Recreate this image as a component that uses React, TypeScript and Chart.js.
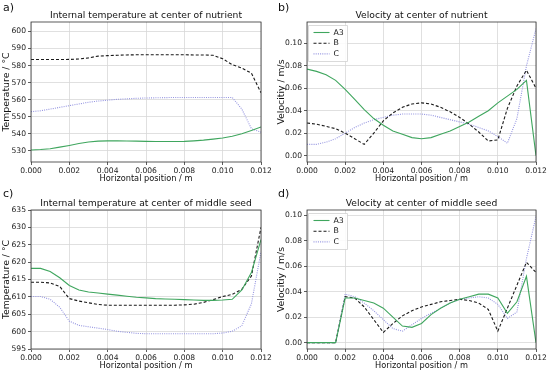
import React, { useEffect, useRef } from "react";
import { Chart, registerables } from "chart.js";
Chart.register(...registerables);

const xPos = [0.0, 0.0005, 0.001, 0.0015, 0.002, 0.0025, 0.003, 0.0035, 0.004, 0.0045, 0.005, 0.0055, 0.006, 0.0065, 0.007, 0.0075, 0.008, 0.0085, 0.009, 0.0095, 0.01, 0.0105, 0.011, 0.0115, 0.012];
const xTicks = [0.0, 0.002, 0.004, 0.006, 0.008, 0.01, 0.012];
const seriesNames = ["A3", "B", "C"];

// a) Internal temperature at center of nutrient
const tempNutA3 = [530.5, 530.8, 531.3, 532.2, 533.2, 534.3, 535.2, 535.7, 535.9, 535.9, 535.8, 535.7, 535.6, 535.5, 535.5, 535.5, 535.6, 535.9, 536.3, 536.9, 537.6, 538.6, 540.0, 542.0, 544.0];
const tempNutB = [583.5, 583.5, 583.5, 583.5, 583.6, 583.8, 584.5, 585.5, 585.8, 586.0, 586.2, 586.3, 586.3, 586.3, 586.3, 586.3, 586.3, 586.2, 586.2, 586.0, 584.0, 580.5, 578.5, 575.5, 564.0];
const tempNutC = [553.0, 553.5, 554.5, 555.5, 556.5, 557.5, 558.5, 559.2, 559.7, 560.2, 560.5, 560.8, 561.0, 561.1, 561.2, 561.3, 561.3, 561.3, 561.3, 561.3, 561.3, 561.3, 554.5, 543.0, 541.0];
const tempNutTicks = [530, 540, 550, 560, 570, 580, 590, 600];

// b) Velocity at center of nutrient
const velNutA3 = [0.077, 0.075, 0.072, 0.067, 0.059, 0.05, 0.041, 0.033, 0.027, 0.022, 0.019, 0.016, 0.015, 0.016, 0.019, 0.022, 0.026, 0.03, 0.035, 0.04, 0.047, 0.053, 0.059, 0.067, 0.0];
const velNutB = [0.029, 0.028, 0.026, 0.024, 0.02, 0.015, 0.01, 0.02, 0.031, 0.038, 0.043, 0.046, 0.047, 0.046, 0.043, 0.039, 0.034, 0.028, 0.021, 0.013, 0.014, 0.042, 0.062, 0.076, 0.06];
const velNutC = [0.01, 0.01, 0.012, 0.015, 0.02, 0.025, 0.029, 0.032, 0.034, 0.036, 0.037, 0.037, 0.037, 0.036, 0.034, 0.032, 0.03, 0.028, 0.025, 0.022, 0.017, 0.011, 0.033, 0.08, 0.113];
const velNutTicks = [0.0, 0.02, 0.04, 0.06, 0.08, 0.1];

// c) Internal temperature at center of middle seed
const tempSeedA3 = [618.2, 618.2, 617.3, 615.5, 613.3, 612.0, 611.4, 611.1, 610.8, 610.5, 610.2, 609.9, 609.7, 609.5, 609.4, 609.3, 609.2, 609.1, 609.0, 609.0, 609.1, 609.3, 612.0, 617.0, 626.5];
const tempSeedB = [614.2, 614.2, 614.0, 613.0, 609.5, 608.8, 608.3, 607.8, 607.6, 607.6, 607.6, 607.6, 607.6, 607.6, 607.6, 607.6, 607.7, 607.9, 608.4, 609.2, 610.1, 610.7, 612.2, 616.0, 630.0];
const tempSeedC = [610.1, 610.1, 609.3, 607.0, 603.0, 601.8, 601.4, 601.0, 600.6, 600.1, 599.8, 599.5, 599.4, 599.4, 599.4, 599.4, 599.4, 599.4, 599.4, 599.4, 599.6, 600.1, 601.7, 608.0, 623.0];
const tempSeedTicks = [595, 600, 605, 610, 615, 620, 625, 630, 635];

// d) Velocity at center of middle seed
const velSeedA3 = [0, 0, 0, 0, 0.035, 0.035, 0.033, 0.031, 0.027, 0.02, 0.013, 0.012, 0.015, 0.022, 0.027, 0.031, 0.034, 0.036, 0.038, 0.038, 0.035, 0.023, 0.032, 0.052, 0.0];
const velSeedB = [0, 0, 0, 0, 0.036, 0.035, 0.028, 0.018, 0.008, 0.015, 0.021, 0.025, 0.028, 0.03, 0.032, 0.033, 0.034, 0.033, 0.031, 0.026, 0.009, 0.027, 0.045, 0.063, 0.055];
const velSeedC = [0, 0, 0, 0, 0.038, 0.036, 0.031, 0.025, 0.018, 0.011, 0.009, 0.014, 0.019, 0.023, 0.027, 0.031, 0.034, 0.035, 0.036, 0.035, 0.03, 0.019, 0.024, 0.066, 0.099];
const velSeedTicks = [0.0, 0.02, 0.04, 0.06, 0.08, 0.1];

const FONT = "'DejaVu Sans', sans-serif";
const W = 275;
const H = 186;
const COLORS = ["#3fa65e", "#1a1a1a", "#9494e0"];
const DASHES: number[][] = [[], [3, 2], [1, 1.2]];

type Spec = {
  left: number;
  top: number;
  label: string;
  title: string;
  yTitle: string;
  series: number[][];
  yMin: number;
  yMax: number;
  yTicks: number[];
  yDigits: number;
  plotLeft: number;
  plotRight: number;
  plotTop: number;
  plotBottom: number;
  legend: boolean;
};

function Panel({ spec }: { spec: Spec }) {
  const ref = useRef<HTMLCanvasElement>(null);
  useEffect(() => {
    const decor = {
      id: "decor",
      afterDraw(chart: any) {
        const ctx = chart.ctx;
        const ca = chart.chartArea;
        ctx.save();
        // frame
        ctx.strokeStyle = "#333";
        ctx.lineWidth = 0.8;
        ctx.strokeRect(ca.left, ca.top, ca.right - ca.left, ca.bottom - ca.top);
        // panel label
        ctx.fillStyle = "#111";
        ctx.font = `11px ${FONT}`;
        ctx.textAlign = "left";
        ctx.textBaseline = "middle";
        ctx.fillText(spec.label, 3, 8);
        // title
        ctx.font = `9.2px ${FONT}`;
        ctx.textAlign = "center";
        ctx.textBaseline = "alphabetic";
        ctx.fillText(spec.title, (ca.left + ca.right) / 2, ca.top - 4);
        // x title
        ctx.font = `8.2px ${FONT}`;
        ctx.textBaseline = "middle";
        ctx.fillText("Horizontal position / m", (ca.left + ca.right) / 2, ca.bottom + 17);
        // y title
        ctx.font = `9.3px ${FONT}`;
        ctx.translate(6.5, (ca.top + ca.bottom) / 2);
        ctx.rotate(-Math.PI / 2);
        ctx.fillText(spec.yTitle, 0, 0);
        ctx.setTransform(1, 0, 0, 1, 0, 0);
        // legend
        if (spec.legend) {
          const bx = ca.left + 1.5;
          const by = ca.top + 3.5;
          const bw = 39;
          const bh = 36;
          ctx.fillStyle = "rgba(255,255,255,0.85)";
          ctx.strokeStyle = "#d0d0d0";
          ctx.lineWidth = 0.8;
          ctx.beginPath();
          ctx.rect(bx, by, bw, bh);
          ctx.fill();
          ctx.stroke();
          ctx.font = `7.8px ${FONT}`;
          ctx.textAlign = "left";
          ctx.textBaseline = "middle";
          seriesNames.forEach((name, i) => {
            const yy = by + 7 + i * 10.7;
            ctx.strokeStyle = COLORS[i];
            ctx.lineWidth = 1.1;
            ctx.setLineDash(DASHES[i]);
            ctx.beginPath();
            ctx.moveTo(bx + 5, yy);
            ctx.lineTo(bx + 21, yy);
            ctx.stroke();
            ctx.setLineDash([]);
            ctx.fillStyle = "#111";
            ctx.fillText(name, bx + 25, yy);
          });
        }
        ctx.restore();
      },
    };
    const datasets = spec.series.map((vals, i) => ({
      label: seriesNames[i],
      data: xPos.map((x, j) => ({ x, y: vals[j] })),
      borderColor: COLORS[i],
      borderDash: DASHES[i],
      borderWidth: 1.1,
      pointRadius: 0,
      fill: false,
      tension: 0,
    }));
    const chart = new Chart(ref.current as HTMLCanvasElement, {
      type: "line",
      data: { datasets },
      options: {
        responsive: false,
        animation: false,
        layout: { padding: { left: 0, top: spec.plotTop, right: W - spec.plotRight, bottom: 0 } },
        plugins: { legend: { display: false }, tooltip: { enabled: false }, title: { display: false } },
        scales: {
          x: {
            type: "linear",
            min: 0,
            max: 0.012,
            afterBuildTicks: (s: any) => {
              s.ticks = xTicks.map((v) => ({ value: v }));
            },
            afterFit: (s: any) => {
              s.height = H - spec.plotBottom;
            },
            ticks: {
              callback: (v: any) => Number(v).toFixed(3),
              font: { family: FONT, size: 7.6 },
              color: "#222",
              padding: 1,
              maxRotation: 0,
              autoSkip: false,
            },
            grid: { color: "#d8d8d8", tickColor: "#333", tickLength: 3, lineWidth: 0.8 },
            border: { display: false },
          },
          y: {
            type: "linear",
            min: spec.yMin,
            max: spec.yMax,
            afterBuildTicks: (s: any) => {
              s.ticks = spec.yTicks.map((v) => ({ value: v }));
            },
            afterFit: (s: any) => {
              s.width = spec.plotLeft;
            },
            ticks: {
              callback: (v: any) => Number(v).toFixed(spec.yDigits),
              font: { family: FONT, size: 7.6 },
              color: "#222",
              padding: 2,
              autoSkip: false,
            },
            grid: { color: "#d8d8d8", tickColor: "#333", tickLength: 3, lineWidth: 0.8 },
            border: { display: false },
          },
        },
      },
      plugins: [decor],
    } as any);
    return () => chart.destroy();
  }, [spec]);
  return (
    <div style={{ position: "absolute", left: spec.left, top: spec.top, width: W, height: H }}>
      <canvas ref={ref} width={W} height={H} style={{ width: W, height: H, display: "block" }} />
    </div>
  );
}

const specs: Spec[] = [
  {
    left: 0, top: 0, label: "a)", title: "Internal temperature at center of nutrient", yTitle: "Temperature / °C",
    series: [tempNutA3, tempNutB, tempNutC], yMin: 523.5, yMax: 605.5, yTicks: tempNutTicks, yDigits: 0,
    plotLeft: 31, plotRight: 261, plotTop: 22, plotBottom: 162, legend: false,
  },
  {
    left: 275, top: 0, label: "b)", title: "Velocity at center of nutrient", yTitle: "Velocitiy / m/s",
    series: [velNutA3, velNutB, velNutC], yMin: -0.0057, yMax: 0.119, yTicks: velNutTicks, yDigits: 2,
    plotLeft: 32, plotRight: 261, plotTop: 22, plotBottom: 162, legend: true,
  },
  {
    left: 0, top: 186, label: "c)", title: "Internal temperature at center of middle seed", yTitle: "Temperature / °C",
    series: [tempSeedA3, tempSeedB, tempSeedC], yMin: 595, yMax: 635, yTicks: tempSeedTicks, yDigits: 0,
    plotLeft: 31, plotRight: 261, plotTop: 24, plotBottom: 163, legend: false,
  },
  {
    left: 275, top: 186, label: "d)", title: "Velocity at center of middle seed", yTitle: "Velocitiy / m/s",
    series: [velSeedA3, velSeedB, velSeedC], yMin: -0.005, yMax: 0.104, yTicks: velSeedTicks, yDigits: 2,
    plotLeft: 32, plotRight: 261, plotTop: 24, plotBottom: 163, legend: true,
  },
];

export default function App() {
  return (
    <div style={{ position: "fixed", left: 0, top: 0, width: 550, height: 372, background: "#fff", overflow: "hidden" }}>
      {specs.map((s) => (
        <Panel key={s.label} spec={s} />
      ))}
    </div>
  );
}
